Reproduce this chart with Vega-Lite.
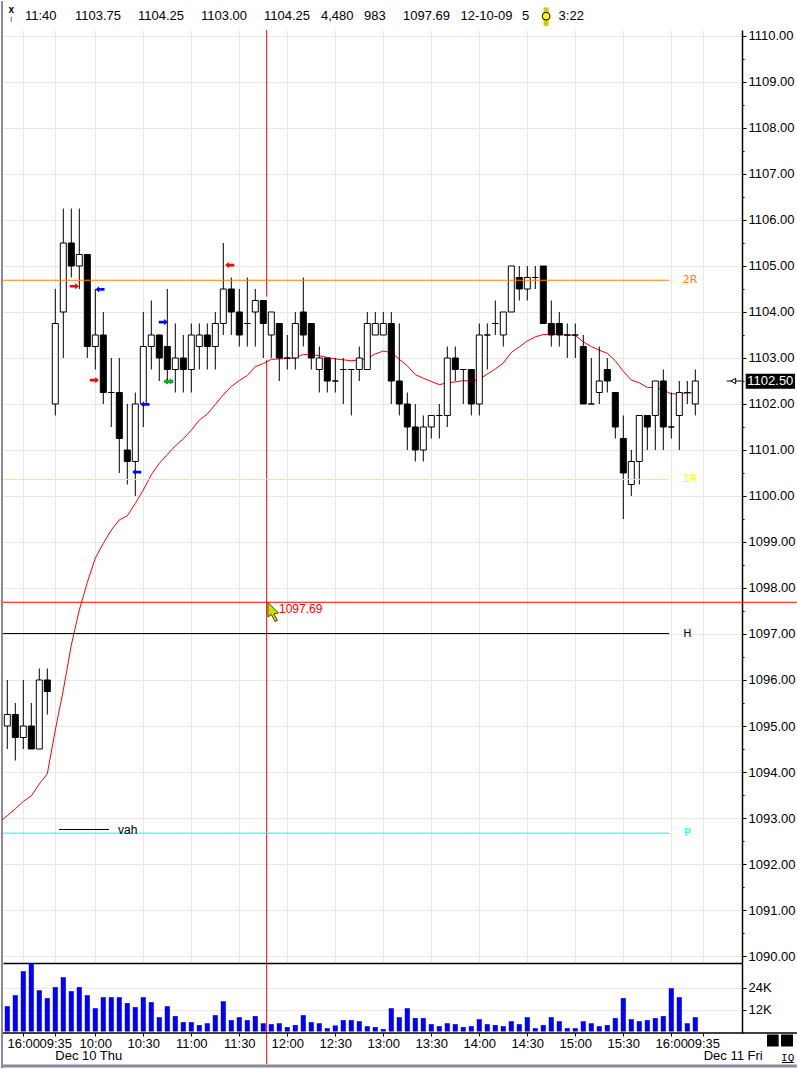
{
  "$schema": "https://vega.github.io/schema/vega-lite/v6.json",
  "background": "white",
  "padding": {"left": 0, "top": 0, "right": 0, "bottom": 0},
  "spacing": 0,
  "bounds": "flush",
  "config": {
    "view": {"stroke": null},
    "text": {"font": "Liberation Sans", "fontSize": 13, "color": "black"},
    "axis": {"labelFont": "Liberation Sans", "labelFontSize": 13, "labelColor": "black", "gridColor": "#e8e8e8", "gridWidth": 1, "domainColor": "black", "tickColor": "black", "title": null}
  },
  "datasets": {
    "candles": [
      {"i": 0, "open": 1095, "high": 1096, "low": 1094.5, "close": 1095.25, "volume": 13800},
      {"i": 1, "open": 1095.25, "high": 1095.5, "low": 1094.25, "close": 1094.75, "volume": 19800},
      {"i": 2, "open": 1094.75, "high": 1096, "low": 1094.5, "close": 1095, "volume": 32900},
      {"i": 3, "open": 1095, "high": 1095.5, "low": 1094.5, "close": 1094.5, "volume": 37300},
      {"i": 4, "open": 1094.5, "high": 1096.25, "low": 1094.5, "close": 1096, "volume": 22500},
      {"i": 5, "open": 1096, "high": 1096.25, "low": 1095.25, "close": 1095.75, "volume": 18200},
      {"i": 6, "open": 1102, "high": 1104.5, "low": 1101.75, "close": 1103.75, "volume": 24200},
      {"i": 7, "open": 1104, "high": 1106.25, "low": 1103, "close": 1105.5, "volume": 29600},
      {"i": 8, "open": 1105.5, "high": 1106.25, "low": 1104.75, "close": 1105, "volume": 22000},
      {"i": 9, "open": 1105, "high": 1106.25, "low": 1104.5, "close": 1105.25, "volume": 24200},
      {"i": 10, "open": 1105.25, "high": 1105.25, "low": 1103, "close": 1103.25, "volume": 19800},
      {"i": 11, "open": 1103.25, "high": 1104.5, "low": 1102.75, "close": 1103.5, "volume": 12700},
      {"i": 12, "open": 1103.5, "high": 1104, "low": 1102, "close": 1102.25, "volume": 18700},
      {"i": 13, "open": 1102.25, "high": 1103, "low": 1101.5, "close": 1102.25, "volume": 18700},
      {"i": 14, "open": 1102.25, "high": 1103, "low": 1100.5, "close": 1101.25, "volume": 18700},
      {"i": 15, "open": 1101, "high": 1102, "low": 1100.25, "close": 1100.75, "volume": 15500},
      {"i": 16, "open": 1100.75, "high": 1102.25, "low": 1100, "close": 1102, "volume": 13300},
      {"i": 17, "open": 1102, "high": 1104, "low": 1101.5, "close": 1103.25, "volume": 18700},
      {"i": 18, "open": 1103.25, "high": 1104.25, "low": 1102.75, "close": 1103.5, "volume": 16000},
      {"i": 19, "open": 1103.5, "high": 1103.5, "low": 1102.5, "close": 1103, "volume": 7800},
      {"i": 20, "open": 1103.25, "high": 1104.5, "low": 1102.5, "close": 1102.75, "volume": 13800},
      {"i": 21, "open": 1102.75, "high": 1103.75, "low": 1102.25, "close": 1103, "volume": 8400},
      {"i": 22, "open": 1103, "high": 1103.5, "low": 1102.25, "close": 1102.75, "volume": 5100},
      {"i": 23, "open": 1102.75, "high": 1103.75, "low": 1102.25, "close": 1103.5, "volume": 5100},
      {"i": 24, "open": 1103.25, "high": 1103.75, "low": 1102.75, "close": 1103.5, "volume": 3500},
      {"i": 25, "open": 1103.5, "high": 1103.75, "low": 1102.75, "close": 1103.25, "volume": 4500},
      {"i": 26, "open": 1103.25, "high": 1104, "low": 1102.75, "close": 1103.75, "volume": 8900},
      {"i": 27, "open": 1103.75, "high": 1105.5, "low": 1103.5, "close": 1104.5, "volume": 16500},
      {"i": 28, "open": 1104.5, "high": 1104.75, "low": 1103.5, "close": 1104, "volume": 6200},
      {"i": 29, "open": 1104, "high": 1104.5, "low": 1103.25, "close": 1103.5, "volume": 7800},
      {"i": 30, "open": 1103.75, "high": 1104.75, "low": 1103.25, "close": 1103.75, "volume": 6200},
      {"i": 31, "open": 1104, "high": 1104.5, "low": 1103.25, "close": 1104.25, "volume": 8400},
      {"i": 32, "open": 1104.25, "high": 1104.25, "low": 1103, "close": 1103.75, "volume": 4500},
      {"i": 33, "open": 1103.5, "high": 1104, "low": 1103, "close": 1104, "volume": 4000},
      {"i": 34, "open": 1103.75, "high": 1103.75, "low": 1102.5, "close": 1103, "volume": 4500},
      {"i": 35, "open": 1103, "high": 1103.5, "low": 1102.75, "close": 1103, "volume": 2400},
      {"i": 36, "open": 1103, "high": 1104, "low": 1102.75, "close": 1103.75, "volume": 3500},
      {"i": 37, "open": 1104, "high": 1104.75, "low": 1103.25, "close": 1103.5, "volume": 8900},
      {"i": 38, "open": 1103.75, "high": 1103.75, "low": 1102.75, "close": 1103, "volume": 5100},
      {"i": 39, "open": 1102.75, "high": 1103.25, "low": 1102.25, "close": 1103, "volume": 4500},
      {"i": 40, "open": 1103, "high": 1103, "low": 1102.25, "close": 1102.5, "volume": 1800},
      {"i": 41, "open": 1102.5, "high": 1103, "low": 1102.25, "close": 1102.5, "volume": 3300},
      {"i": 42, "open": 1102.75, "high": 1103, "low": 1102, "close": 1102.75, "volume": 6200},
      {"i": 43, "open": 1102.75, "high": 1102.75, "low": 1101.75, "close": 1102.75, "volume": 6200},
      {"i": 44, "open": 1102.75, "high": 1103.25, "low": 1102.5, "close": 1103, "volume": 5600},
      {"i": 45, "open": 1102.75, "high": 1104, "low": 1102.75, "close": 1103.75, "volume": 2900},
      {"i": 46, "open": 1103.5, "high": 1104, "low": 1103.5, "close": 1103.75, "volume": 2400},
      {"i": 47, "open": 1103.5, "high": 1104, "low": 1103.5, "close": 1103.75, "volume": 1300},
      {"i": 48, "open": 1103.75, "high": 1104, "low": 1102, "close": 1102.5, "volume": 12700},
      {"i": 49, "open": 1102.5, "high": 1103.75, "low": 1101.75, "close": 1102, "volume": 7800},
      {"i": 50, "open": 1102, "high": 1102.25, "low": 1101, "close": 1101.5, "volume": 12700},
      {"i": 51, "open": 1101.5, "high": 1102, "low": 1100.75, "close": 1101, "volume": 7300},
      {"i": 52, "open": 1101, "high": 1101.75, "low": 1100.75, "close": 1101.5, "volume": 7300},
      {"i": 53, "open": 1101.5, "high": 1101.75, "low": 1101.25, "close": 1101.75, "volume": 4000},
      {"i": 54, "open": 1101.75, "high": 1102, "low": 1101.25, "close": 1101.75, "volume": 2900},
      {"i": 55, "open": 1101.75, "high": 1103.25, "low": 1101.5, "close": 1103, "volume": 4500},
      {"i": 56, "open": 1103, "high": 1103.25, "low": 1102.5, "close": 1102.75, "volume": 4000},
      {"i": 57, "open": 1102.75, "high": 1102.75, "low": 1102, "close": 1102.75, "volume": 2400},
      {"i": 58, "open": 1102.75, "high": 1102.75, "low": 1101.75, "close": 1102, "volume": 2900},
      {"i": 59, "open": 1102, "high": 1103.75, "low": 1101.75, "close": 1103.5, "volume": 6700},
      {"i": 60, "open": 1103.5, "high": 1103.75, "low": 1102.75, "close": 1103.5, "volume": 4000},
      {"i": 61, "open": 1103.75, "high": 1104.25, "low": 1103.5, "close": 1103.75, "volume": 3500},
      {"i": 62, "open": 1103.5, "high": 1104, "low": 1103.25, "close": 1104, "volume": 2900},
      {"i": 63, "open": 1104, "high": 1105, "low": 1104, "close": 1105, "volume": 5600},
      {"i": 64, "open": 1104.75, "high": 1105, "low": 1104.25, "close": 1104.5, "volume": 4000},
      {"i": 65, "open": 1104.5, "high": 1105, "low": 1104.25, "close": 1104.75, "volume": 7800},
      {"i": 66, "open": 1104.75, "high": 1105, "low": 1104.5, "close": 1104.75, "volume": 1800},
      {"i": 67, "open": 1105, "high": 1105, "low": 1103.75, "close": 1103.75, "volume": 3500},
      {"i": 68, "open": 1103.75, "high": 1104.25, "low": 1103.25, "close": 1103.5, "volume": 7800},
      {"i": 69, "open": 1103.75, "high": 1104, "low": 1103.25, "close": 1103.5, "volume": 5600},
      {"i": 70, "open": 1103.5, "high": 1103.75, "low": 1103, "close": 1103.5, "volume": 1800},
      {"i": 71, "open": 1103.5, "high": 1103.75, "low": 1103, "close": 1103.5, "volume": 1800},
      {"i": 72, "open": 1103.25, "high": 1103.5, "low": 1102, "close": 1102, "volume": 5600},
      {"i": 73, "open": 1102, "high": 1103, "low": 1102, "close": 1102, "volume": 4500},
      {"i": 74, "open": 1102.25, "high": 1103.25, "low": 1102, "close": 1102.5, "volume": 2900},
      {"i": 75, "open": 1102.75, "high": 1103, "low": 1102.25, "close": 1102.5, "volume": 3500},
      {"i": 76, "open": 1102.25, "high": 1102.25, "low": 1101.25, "close": 1101.5, "volume": 7300},
      {"i": 77, "open": 1101.25, "high": 1101.75, "low": 1099.5, "close": 1100.5, "volume": 18200},
      {"i": 78, "open": 1100.25, "high": 1101, "low": 1100, "close": 1100.75, "volume": 6700},
      {"i": 79, "open": 1100.75, "high": 1101.75, "low": 1100.25, "close": 1101.75, "volume": 5600},
      {"i": 80, "open": 1101.75, "high": 1101.75, "low": 1101, "close": 1101.5, "volume": 6200},
      {"i": 81, "open": 1101.75, "high": 1102.5, "low": 1101, "close": 1102.5, "volume": 7300},
      {"i": 82, "open": 1102.5, "high": 1102.75, "low": 1101, "close": 1101.5, "volume": 8400},
      {"i": 83, "open": 1101.5, "high": 1102.25, "low": 1101.25, "close": 1101.5, "volume": 23600},
      {"i": 84, "open": 1101.75, "high": 1102.5, "low": 1101, "close": 1102.25, "volume": 18700},
      {"i": 85, "open": 1102.25, "high": 1102.5, "low": 1102, "close": 1102.25, "volume": 4500},
      {"i": 86, "open": 1102, "high": 1102.75, "low": 1101.75, "close": 1102.5, "volume": 7800}
    ],
    "avg": [
      {"i": -0.66, "price": 1092.96}, {"i": 0, "price": 1093.05}, {"i": 1, "price": 1093.2}, {"i": 2, "price": 1093.36},
      {"i": 3, "price": 1093.48}, {"i": 4, "price": 1093.74}, {"i": 5, "price": 1093.96}, {"i": 6, "price": 1094.91},
      {"i": 7, "price": 1095.78}, {"i": 8, "price": 1096.76}, {"i": 9, "price": 1097.52}, {"i": 10, "price": 1098.12},
      {"i": 11, "price": 1098.65}, {"i": 12, "price": 1098.97}, {"i": 13, "price": 1099.26}, {"i": 14, "price": 1099.48},
      {"i": 15, "price": 1099.57}, {"i": 16, "price": 1099.84}, {"i": 17, "price": 1100.13}, {"i": 18, "price": 1100.46},
      {"i": 19, "price": 1100.71}, {"i": 20, "price": 1100.9}, {"i": 21, "price": 1101.09}, {"i": 22, "price": 1101.24},
      {"i": 23, "price": 1101.43}, {"i": 24, "price": 1101.65}, {"i": 25, "price": 1101.78}, {"i": 26, "price": 1101.99},
      {"i": 27, "price": 1102.2}, {"i": 28, "price": 1102.38}, {"i": 29, "price": 1102.51}, {"i": 30, "price": 1102.62},
      {"i": 31, "price": 1102.81}, {"i": 32, "price": 1102.88}, {"i": 33, "price": 1102.97}, {"i": 34, "price": 1102.98},
      {"i": 35, "price": 1102.99}, {"i": 36, "price": 1103}, {"i": 37, "price": 1103.08}, {"i": 38, "price": 1103.07},
      {"i": 39, "price": 1103.05}, {"i": 40, "price": 1103.01}, {"i": 41, "price": 1102.98}, {"i": 42, "price": 1102.96},
      {"i": 43, "price": 1102.94}, {"i": 44, "price": 1102.96}, {"i": 45, "price": 1102.99}, {"i": 46, "price": 1103.09},
      {"i": 47, "price": 1103.15}, {"i": 48, "price": 1103.12}, {"i": 49, "price": 1102.97}, {"i": 50, "price": 1102.83},
      {"i": 51, "price": 1102.64}, {"i": 52, "price": 1102.56}, {"i": 53, "price": 1102.49}, {"i": 54, "price": 1102.42},
      {"i": 55, "price": 1102.46}, {"i": 56, "price": 1102.48}, {"i": 57, "price": 1102.51}, {"i": 58, "price": 1102.49},
      {"i": 59, "price": 1102.54}, {"i": 60, "price": 1102.65}, {"i": 61, "price": 1102.76}, {"i": 62, "price": 1102.89},
      {"i": 63, "price": 1103.12}, {"i": 64, "price": 1103.24}, {"i": 65, "price": 1103.37}, {"i": 66, "price": 1103.46},
      {"i": 67, "price": 1103.51}, {"i": 68, "price": 1103.51}, {"i": 69, "price": 1103.51}, {"i": 70, "price": 1103.5},
      {"i": 71, "price": 1103.49}, {"i": 72, "price": 1103.35}, {"i": 73, "price": 1103.25}, {"i": 74, "price": 1103.17},
      {"i": 75, "price": 1103.1}, {"i": 76, "price": 1102.94}, {"i": 77, "price": 1102.71}, {"i": 78, "price": 1102.52},
      {"i": 79, "price": 1102.46}, {"i": 80, "price": 1102.36}, {"i": 81, "price": 1102.36}, {"i": 82, "price": 1102.3},
      {"i": 83, "price": 1102.22}, {"i": 84, "price": 1102.22}, {"i": 85, "price": 1102.24}, {"i": 85.6, "price": 1102.24}
    ],
    "levels": [
      {"name": "2R", "price": 1104.69, "i": -0.5375, "i2": 82.74, "labelI": 85.35},
      {"name": "1R", "price": 1100.36, "i": -0.5375, "i2": 82.74, "labelI": 85.35},
      {"name": "H", "price": 1097.01, "i": -0.5375, "i2": 82.74, "labelI": 85},
      {"name": "P", "price": 1092.67, "i": -0.5375, "i2": 82.74, "labelI": 85}
    ],
    "signals": [
      {"i": 8.38, "price": 1104.56, "dir": "right", "kind": "red"},
      {"i": 11.59, "price": 1104.49, "dir": "left", "kind": "blue"},
      {"i": 10.88, "price": 1102.52, "dir": "right", "kind": "red"},
      {"i": 19.5, "price": 1103.78, "dir": "right", "kind": "blue"},
      {"i": 17.21, "price": 1101.99, "dir": "left", "kind": "blue"},
      {"i": 16.18, "price": 1100.52, "dir": "left", "kind": "blue"},
      {"i": 27.8, "price": 1105.02, "dir": "left", "kind": "red"},
      {"i": 20.21, "price": 1102.49, "dir": "right", "kind": "red"},
      {"i": 20.15, "price": 1102.49, "dir": "left", "kind": "blue"},
      {"i": 20.2, "price": 1102.49, "dir": "right", "kind": "green"}
    ],
    "header": [
      {"i": 2.21, "price": 1110.44, "label": "11:40"},
      {"i": 8.46, "price": 1110.44, "label": "1103.75"},
      {"i": 16.34, "price": 1110.44, "label": "1104.25"},
      {"i": 24.21, "price": 1110.44, "label": "1103.00"},
      {"i": 32.09, "price": 1110.44, "label": "1104.25"},
      {"i": 39.21, "price": 1110.44, "label": "4,480"},
      {"i": 44.59, "price": 1110.44, "label": "983"},
      {"i": 49.46, "price": 1110.44, "label": "1097.69"},
      {"i": 56.65, "price": 1110.44, "label": "12-10-09"},
      {"i": 64.34, "price": 1110.44, "label": "5"},
      {"i": 68.91, "price": 1110.44, "label": "3:22"}
    ]
  },
  "vconcat": [
    {
      "width": 739,
      "height": 933,
      "encoding": {
        "x": {
          "field": "i",
          "type": "quantitative",
          "scale": {"domain": [-0.5375, 91.8375], "nice": false, "zero": false, "padding": 0},
          "axis": {
            "orient": "bottom",
            "values": [2, 6, 11, 17, 23, 29, 35, 41, 47, 53, 59, 65, 71, 77, 83, 87],
            "labels": false,
            "ticks": false,
            "domainWidth": 1.5,
            "grid": true
          }
        },
        "y": {
          "field": "price",
          "type": "quantitative",
          "scale": {"domain": [1089.848, 1110.13], "nice": false, "zero": false},
          "axis": {
            "orient": "right",
            "values": [1090, 1090.5, 1091, 1091.5, 1092, 1092.5, 1093, 1093.5, 1094, 1094.5, 1095, 1095.5, 1096, 1096.5, 1097, 1097.5, 1098, 1098.5, 1099, 1099.5, 1100, 1100.5, 1101, 1101.5, 1102, 1102.5, 1103, 1103.5, 1104, 1104.5, 1105, 1105.5, 1106, 1106.5, 1107, 1107.5, 1108, 1108.5, 1109, 1109.5, 1110],
            "labelExpr": "datum.value % 1 === 0 ? format(datum.value, '.2f') : ''",
            "labelOverlap": false,
            "labelFlush": false,
            "labelPadding": 2,
            "domainWidth": 1.5,
            "grid": true,
            "gridOpacity": {"condition": {"test": "datum.value % 1 === 0", "value": 1}, "value": 0},
            "tickSize": {"condition": {"test": "datum.value % 1 === 0", "value": 4}, "value": 2}
          }
        }
      },
      "layer": [
        {
          "data": {"values": [{"i": -0.66, "price": 1110.76, "price2": 1089.848}]},
          "mark": {"type": "rule", "color": "#8a8a9c", "strokeWidth": 2},
          "encoding": {"y2": {"field": "price2"}}
        },
        {
          "data": {"name": "avg"},
          "mark": {"type": "line", "color": "#ff0000", "strokeWidth": 1},
          "encoding": {}
        },
        {
          "data": {"values": [{"i": 32.42, "price": 1110.13, "price2": 1104.33}, {"i": 32.42, "price": 1102.96, "price2": 1089.848}]},
          "mark": {"type": "rule", "color": "#ff0000", "strokeWidth": 1},
          "encoding": {"y2": {"field": "price2"}}
        },
        {
          "data": {"name": "candles"},
          "mark": {"type": "rule", "color": "black", "strokeWidth": 1},
          "encoding": {
            "y": {"field": "low", "type": "quantitative", "scale": {"domain": [1089.848, 1110.13], "nice": false, "zero": false}},
            "y2": {"field": "high"}
          }
        },
        {
          "data": {"name": "candles"},
          "mark": {"type": "bar", "orient": "vertical", "size": 6, "stroke": "black", "strokeWidth": 1},
          "encoding": {
            "y": {"field": "open", "type": "quantitative", "stack": null, "scale": {"domain": [1089.848, 1110.13], "nice": false, "zero": false}},
            "y2": {"field": "close"},
            "fill": {"condition": {"test": "datum.close >= datum.open", "value": "white"}, "value": "black"}
          }
        },
        {
          "data": {"name": "levels"},
          "mark": {"type": "rule", "strokeWidth": 1},
          "encoding": {
            "x2": {"field": "i2"},
            "color": {"field": "name", "type": "nominal", "scale": {"domain": ["2R", "1R", "H", "P"], "range": ["#ff8000", "#ffff00", "black", "#00ffff"]}, "legend": null}
          }
        },
        {
          "data": {"name": "levels"},
          "mark": {"type": "text", "align": "center", "baseline": "middle", "fontSize": 11, "font": "DejaVu Sans"},
          "encoding": {
            "x": {"field": "labelI", "type": "quantitative", "scale": {"domain": [-0.5375, 91.8375], "nice": false, "zero": false, "padding": 0}},
            "text": {"field": "name"},
            "color": {"field": "name", "type": "nominal", "scale": {"domain": ["2R", "1R", "H", "P"], "range": ["#ff8000", "#ffff00", "black", "#00ffff"]}, "legend": null}
          }
        },
        {
          "data": {"values": [{"i": -0.5375, "i2": 98.7, "price": 1097.69}]},
          "mark": {"type": "rule", "color": "#ff0000", "strokeWidth": 1},
          "encoding": {"x2": {"field": "i2"}}
        },
        {
          "data": {"values": [{"i": 6.46, "i2": 12.71, "price": 1092.75}]},
          "mark": {"type": "rule", "color": "black", "strokeWidth": 1},
          "encoding": {"x2": {"field": "i2"}}
        },
        {
          "data": {"values": [{"i": 13.84, "price": 1092.75, "label": "vah"}]},
          "mark": {"type": "text", "align": "left", "baseline": "middle", "fontSize": 12},
          "encoding": {"text": {"field": "label"}}
        },
        {
          "data": {"name": "signals"},
          "mark": {"type": "point", "filled": true, "size": 81, "opacity": 1},
          "encoding": {
            "shape": {
              "field": "dir",
              "type": "nominal",
              "scale": {
                "domain": ["left", "right"],
                "range": ["M1,-0.3 L-0.2,-0.3 L-0.2,-0.7 L-1,0 L-0.2,0.7 L-0.2,0.3 L1,0.3 Z", "M-1,-0.3 L0.2,-0.3 L0.2,-0.7 L1,0 L0.2,0.7 L0.2,0.3 L-1,0.3 Z"]
              },
              "legend": null
            },
            "fill": {"field": "kind", "type": "nominal", "scale": {"domain": ["red", "blue", "green"], "range": ["#ff0000", "#0000ff", "#00c000"]}, "legend": null}
          }
        },
        {
          "data": {"values": [{"i": 33.2, "price": 1097.48}]},
          "mark": {
            "type": "point",
            "shape": "M-0.5,-0.95 L0.55,0.1 L0.1,0.2 L0.45,0.85 L0.2,0.95 L-0.15,0.25 L-0.5,0.5 Z",
            "size": 400,
            "filled": true,
            "opacity": 1,
            "color": "#d8d800",
            "stroke": "#444400",
            "strokeWidth": 1
          },
          "encoding": {}
        },
        {
          "data": {"values": [{"i": 33.96, "price": 1097.54, "label": "1097.69"}]},
          "mark": {"type": "text", "align": "left", "baseline": "middle", "fontSize": 12, "color": "#ff0000", "letterSpacing": 0.5},
          "encoding": {"text": {"field": "label"}}
        },
        {
          "data": {"name": "header"},
          "mark": {"type": "text", "align": "left", "baseline": "middle"},
          "encoding": {"text": {"field": "label"}}
        },
        {
          "data": {"values": [{"i": 0.5, "price": 1110.56, "label": "x"}]},
          "mark": {"type": "text", "align": "center", "baseline": "middle", "fontSize": 10, "fontWeight": "bold"},
          "encoding": {"text": {"field": "label"}}
        },
        {
          "data": {"values": [{"i": 0.5, "price": 1110.42, "price2": 1110.3}]},
          "mark": {"type": "rule", "color": "#a0a0a0", "strokeWidth": 1.5},
          "encoding": {"y2": {"field": "price2"}}
        },
        {
          "data": {"values": [{"i": 67.35, "price": 1110.62, "price2": 1110.22}]},
          "mark": {"type": "rule", "color": "#d8c800", "strokeWidth": 5},
          "encoding": {"y2": {"field": "price2"}}
        },
        {
          "data": {"values": [{"i": 67.35, "price": 1110.43}]},
          "mark": {"type": "point", "filled": true, "size": 60, "opacity": 1, "color": "#ffff00", "stroke": "black", "strokeWidth": 1},
          "encoding": {}
        },
        {
          "data": {"values": [{"i": 89.93, "i2": 91.8, "price": 1102.5}]},
          "mark": {"type": "rule", "color": "black", "strokeWidth": 1},
          "encoding": {"x2": {"field": "i2"}}
        },
        {
          "data": {"values": [{"i": 90.75, "price": 1102.5}]},
          "mark": {"type": "point", "shape": "triangle-left", "filled": true, "size": 30, "opacity": 1, "color": "white", "stroke": "black", "strokeWidth": 1},
          "encoding": {}
        },
        {
          "data": {"values": [{"i": 92.3, "i2": 98.46, "price": 1102.66, "price2": 1102.33}]},
          "mark": {"type": "rect", "color": "black"},
          "encoding": {"x2": {"field": "i2"}, "y2": {"field": "price2"}}
        },
        {
          "data": {"values": [{"i": 95.38, "price": 1102.5, "label": "1102.50"}]},
          "mark": {"type": "text", "align": "center", "baseline": "middle", "color": "white"},
          "encoding": {"text": {"field": "label"}}
        }
      ]
    },
    {
      "width": 739,
      "height": 70,
      "encoding": {
        "x": {
          "field": "i",
          "type": "quantitative",
          "scale": {"domain": [-0.5375, 91.8375], "nice": false, "zero": false, "padding": 0},
          "axis": {
            "orient": "bottom",
            "values": [2, 6, 11, 17, 23, 29, 35, 41, 47, 53, 59, 65, 71, 77, 83, 87],
            "labelExpr": "{'2':'16:00','6':'09:35','11':'10:00','17':'10:30','23':'11:00','29':'11:30','35':'12:00','41':'12:30','47':'13:00','53':'13:30','59':'14:00','65':'14:30','71':'15:00','77':'15:30','83':'16:00','87':'09:35'}[datum.value]",
            "labelOverlap": false,
            "labelFlush": false,
            "labelPadding": 1,
            "tickSize": 3,
            "domain": false,
            "grid": false
          }
        },
        "y": {
          "field": "volume",
          "type": "quantitative",
          "scale": {"domain": [-818, 37364], "nice": false, "zero": false},
          "axis": {
            "orient": "right",
            "values": [12000, 24000],
            "labelExpr": "datum.value / 1000 + 'K'",
            "labelPadding": 2,
            "tickSize": 4,
            "domainWidth": 1.5,
            "grid": true
          }
        }
      },
      "layer": [
        {
          "data": {"values": [{"i": -0.66, "volume": 37364, "volume2": -20000}]},
          "mark": {"type": "rule", "color": "#8a8a9c", "strokeWidth": 2},
          "encoding": {"y2": {"field": "volume2"}}
        },
        {
          "data": {"name": "candles"},
          "mark": {"type": "bar", "orient": "vertical", "size": 5, "color": "#0000ff"},
          "encoding": {"y": {"field": "volume", "type": "quantitative", "stack": null, "scale": {"domain": [-818, 37364], "nice": false, "zero": false}}}
        },
        {
          "data": {"values": [{"i": 32.42, "volume": 37364, "volume2": -18000}]},
          "mark": {"type": "rule", "color": "#ff0000", "strokeWidth": 1},
          "encoding": {"y2": {"field": "volume2"}}
        },
        {
          "data": {"values": [{"i": -0.5375, "i2": 98.7, "volume": -818}]},
          "mark": {"type": "rule", "color": "black", "strokeWidth": 1.5},
          "encoding": {"x2": {"field": "i2"}}
        },
        {
          "data": {"values": [{"i": -0.66, "i2": 98.7, "volume": -18818}]},
          "mark": {"type": "rule", "color": "#8a8a9c", "strokeWidth": 3},
          "encoding": {"x2": {"field": "i2"}}
        },
        {
          "data": {"values": [{"i": 6, "volume": -13473, "label": "Dec 10 Thu"}, {"i": 87.05, "volume": -13473, "label": "Dec 11 Fri"}]},
          "mark": {"type": "text", "align": "left", "baseline": "middle"},
          "encoding": {"text": {"field": "label"}}
        },
        {
          "data": {"values": [{"i": 94.96, "i2": 96.42, "volume": -1636, "volume2": -8182}, {"i": 96.71, "i2": 98.21, "volume": -1636, "volume2": -8182}]},
          "mark": {"type": "rect", "color": "black"},
          "encoding": {"x2": {"field": "i2"}, "y2": {"field": "volume2"}}
        },
        {
          "data": {"values": [{"i": 97.55, "volume": -14182, "label": "IQ"}]},
          "mark": {"type": "text", "align": "center", "baseline": "middle", "fontSize": 11, "font": "Liberation Mono"},
          "encoding": {"text": {"field": "label"}}
        },
        {
          "data": {"values": [{"i": 96.84, "i2": 98.2, "volume": -16909}]},
          "mark": {"type": "rule", "color": "black", "strokeWidth": 1},
          "encoding": {"x2": {"field": "i2"}}
        }
      ]
    }
  ]
}
